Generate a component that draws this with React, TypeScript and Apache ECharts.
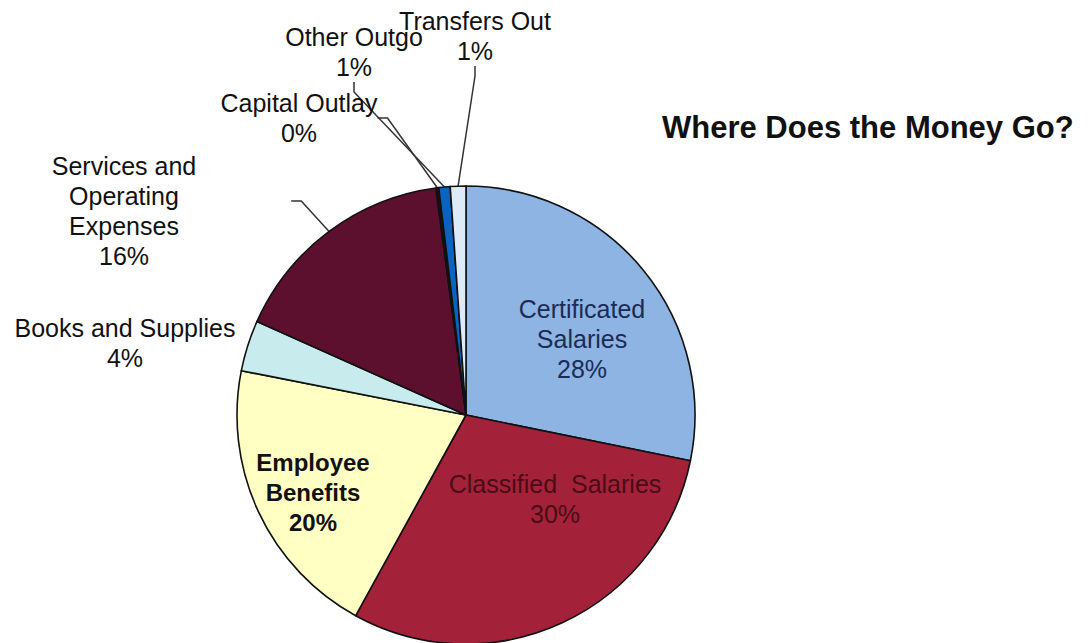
import React, { useEffect, useRef } from "react";
import * as echarts from "echarts";

const categories = [
  "Certificated Salaries",
  "Classified Salaries",
  "Employee Benefits",
  "Books and Supplies",
  "Services and Operating Expenses",
  "Capital Outlay",
  "Other Outgo",
  "Transfers Out",
];
const labelNames = [
  "Certificated\nSalaries",
  "Classified  Salaries",
  "Employee\nBenefits",
  "Books and Supplies",
  "Services and\nOperating\nExpenses",
  "Capital Outlay",
  "Other Outgo",
  "Transfers Out",
];
const values = [28.2, 29.8, 20.1, 3.6, 16.2, 0.2, 0.8, 1.1];
const titleText = "Where Does the Money Go?";

const colors = ["#8DB4E2", "#A4213A", "#FFFFC4", "#C8ECEE", "#5D0F2E", "#2A0818", "#0B63C0", "#DDEBF8"];
const labelColors = ["#1C2B55", "#4A0C16", "#111111", "#111111", "#111111", "#111111", "#111111", "#111111"];
const labelBold = [false, false, true, false, false, false, false, false];
const insideLabel = [true, true, true, false, false, false, false, false];
const showLeader = [false, false, false, false, true, true, true, true];
const labelPadding: number[][] = [
  [0, 0, 0, 0],
  [0, 0, 0, 0],
  [0, 0, 0, 0],
  [0, 0, 0, 0],
  [20, 95, 0, 0],
  [0, 0, 0, 0],
  [0, 0, 0, 0],
  [0, 0, 0, 0],
];
const labelVAlign = ["middle", "middle", "middle", "middle", "top", "middle", "middle", "middle"];
const labelPos: [number, number][] = [
  [582, 339],
  [555, 499],
  [313, 492],
  [125, 343],
  [171.5, 131],
  [299, 118],
  [354, 52],
  [475, 36],
];

export default function App() {
  const ref = useRef<HTMLDivElement>(null);
  useEffect(() => {
    if (!ref.current) return;
    const chart = echarts.init(ref.current, null, { renderer: "svg" });
    const data = categories.map((name, i) => ({
      name,
      value: values[i],
      itemStyle: { color: colors[i] },
      label: {
        color: labelColors[i],
        fontWeight: labelBold[i] ? "bold" : "normal",
        fontSize: labelBold[i] ? 24 : 25,
        position: insideLabel[i] ? "inside" : "outside",
        padding: labelPadding[i],
      },
      labelLine: { show: showLeader[i] },
    }));
    chart.setOption({
      animation: false,
      backgroundColor: "#ffffff",
      title: {
        text: titleText,
        left: 657,
        top: 107,
        textStyle: {
          fontFamily: "Liberation Sans",
          fontSize: 31,
          fontWeight: "bold",
          color: "#111111",
        },
      },
      series: [
        {
          type: "pie",
          center: [466, 415],
          radius: 229,
          startAngle: 90,
          clockwise: true,
          avoidLabelOverlap: false,
          itemStyle: { borderColor: "#111111", borderWidth: 1.6 },
          label: {
            show: true,
            fontFamily: "Liberation Sans",
            lineHeight: 30,
            align: "center",
            formatter: (p: any) => `${labelNames[p.dataIndex]}\n${Math.round(p.percent)}%`,
          },
          labelLine: {
            length: 12,
            length2: 10,
            lineStyle: { color: "#333333", width: 1.5 },
          },
          labelLayout: (params: any) => {
            const i = params.dataIndex;
            const pos = labelPos[i];
            return { x: pos[0], y: pos[1], align: "center", verticalAlign: labelVAlign[i] };
          },
          emphasis: { disabled: true },
          data,
        },
      ],
    });
    return () => chart.dispose();
  }, []);
  return (
    <div
      ref={ref}
      style={{ position: "fixed", left: 0, top: 0, width: 1088, height: 643, background: "#fff" }}
    />
  );
}
